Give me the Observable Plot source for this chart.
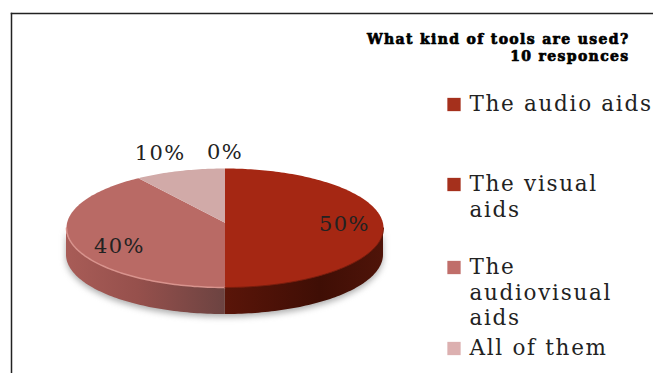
<!DOCTYPE html>
<html>
<head>
<meta charset="utf-8">
<script src="https://cdn.jsdelivr.net/npm/d3@7"></script>
<script src="https://cdn.jsdelivr.net/npm/@observablehq/plot@0.6"></script>
<style>
  html, body { margin: 0; padding: 0; background: #fff; overflow: hidden; }
  svg { display: block; }
</style>
</head>
<body>
<div id="chart"></div>
<script>
// Survey answers, in the order they run clockwise from twelve o'clock.
const categories = ["The audio aids", "The visual aids", "The audiovisual aids", "All of them"];
const shares = [0, 50, 40, 10];
const titleLines = ["What kind of tools are used?", "10 responces"];
const legendLabels = ["The audio aids", "The visual\naids", "The\naudiovisual\naids", "All of them"];

// Palette and layout
const topColors = ["#a52713", "#a52713", "#b96a65", "#d1aaa8"];
const swatchColors = ["#a5301c", "#a5301c", "#c06e6a", "#dcb0b0"];
const labelRadius = [1.33, 0.756, 0.69, 1.5];
const labelDrop = [0, 0.034, 0.186, 0.085];   // nudge below the radial spot, in y units
const legendRows = [104, 184, 267, 348];
const tilt = 0.09;          // perspective strength of the tilted disc
const depth = 0.458;        // thickness of the disc, in units of the y scale
const frameLeft = 11, frameTop = 13;
const font = "'DejaVu Serif', serif";

// Perspective view of a point on the unit disc: the near edge looks larger.
const project = (x, y) => ({x: x / (1 + tilt * y), y: y / (1 + tilt * y)});

// Angles run clockwise from the top; x = sin, y = cos on the unit disc.
const total = d3.sum(shares);
const slices = [];
let start = 0;
categories.forEach((name, i) => {
  const sweep = (shares[i] / total) * 2 * Math.PI;
  slices.push({name, share: shares[i], start, end: start + sweep, color: topColors[i], index: i});
  start += sweep;
});
const arcPoints = (a0, a1) => {
  const n = Math.max(2, Math.ceil(Math.abs(a1 - a0) / 0.02));
  return d3.range(n + 1).map(k => a0 + ((a1 - a0) * k) / n);
};
const wedges = slices.filter(s => s.share > 0).flatMap(s =>
  [project(0, 0), ...arcPoints(s.start, s.end).map(a => project(Math.sin(a), Math.cos(a)))]
    .map(p => ({...p, name: s.name, color: s.color}))
);

// The visible wall is the rim below its widest point, split where the slices meet.
const wall = (a0, a1) => arcPoints(a0, a1).map(a => project(Math.sin(a), Math.cos(a)));
const widest = Math.acos(-tilt);
const wallRight = wall(widest, Math.PI);
const wallLeft = wall(Math.PI, 2 * Math.PI - widest);

const labels = slices.map(s => {
  const mid = s.share === 0 ? 0 : (s.start + s.end) / 2;
  const r = labelRadius[s.index];
  const p = project(r * Math.sin(mid), r * Math.cos(mid));
  return {x: p.x, y: p.y - labelDrop[s.index], text: `${s.share}%`};
});

const gradients = () => {
  const defs = d3.create("svg:defs");
  const add = (id, stops) => {
    const g = defs.append("linearGradient").attr("id", id);
    stops.forEach(([offset, color]) => g.append("stop").attr("offset", offset).attr("stop-color", color));
  };
  add("wall-right", [["0%", "#5a1509"], ["60%", "#3f0e05"], ["100%", "#4f1409"]]);
  add("wall-left", [["0%", "#a85c57"], ["45%", "#96504c"], ["100%", "#6c4341"]]);
  return defs.node();
};

const inFrame = (x, y) => ({frameAnchor: "top-left", dx: x - frameLeft, dy: y - frameTop});

// Wide-set lettering: letter-spacing on the group the text mark renders.
const spaced = px => (index, scales, values, dimensions, context, next) => {
  const g = next(index, scales, values, dimensions, context);
  g.setAttribute("letter-spacing", px);
  return g;
};

const halfWidth = 1 / Math.sqrt(1 - tilt * tilt);

const chart = Plot.plot({
  width: 653,
  height: 373,
  marginLeft: frameLeft,
  marginTop: frameTop,
  marginRight: 0,
  marginBottom: 0,
  x: {axis: null, domain: [-halfWidth, halfWidth], range: [66, 383]},
  y: {axis: null, domain: [1 / (1 + tilt), -1 / (1 - tilt)], range: [168, 287]},
  style: {background: "#fff", fontFamily: font},
  marks: [
    gradients,
    Plot.frame({anchor: "left", stroke: "#222", strokeWidth: 1.5}),
    Plot.frame({anchor: "top", stroke: "#222", strokeWidth: 1.5}),
    // soft shadow under the disc
    Plot.areaY([...wallLeft, ...wallRight], {
      x: "x", y1: "y", y2: d => d.y - depth - 0.05, fill: "#777", fillOpacity: 0.6,
      sort: "x", imageFilter: "blur(3px)"
    }),
    // disc wall
    Plot.areaY(wallRight, {x: "x", y1: "y", y2: d => d.y - depth, sort: "x", fill: "url(#wall-right)"}),
    Plot.areaY(wallLeft, {x: "x", y1: "y", y2: d => d.y - depth, sort: "x", fill: "url(#wall-left)"}),
    // disc top
    Plot.line(wedges, {x: "x", y: "y", z: "name", fill: "color", stroke: null, curve: "linear"}),
    // lit edge along the front of the rim
    Plot.line(wallLeft, {x: "x", y: "y", stroke: "#d8938d", strokeWidth: 1.5}),
    Plot.line(wallRight, {x: "x", y: "y", stroke: "#7a1d0d", strokeWidth: 1}),
    // percentage labels
    Plot.text(labels, {
      x: "x", y: "y", text: "text", render: spaced(1.4),
      fontSize: 21, fill: "#222", fontFamily: font
    }),
    // heading
    Plot.text([titleLines.join("\n")], {
      ...inFrame(629, 32), text: d => d, textAnchor: "end", lineAnchor: "top", lineHeight: 1.2,
      fontSize: 14, fontWeight: 900, fill: "#000", stroke: "#000", strokeWidth: 0.7, fontFamily: font,
      render: spaced(1.35)
    }),
    // legend
    ...legendLabels.map((label, i) => Plot.dot([label], {
      ...inFrame(453.5, legendRows[i]), symbol: "square", r: 7.5, fill: swatchColors[i], stroke: null
    })),
    ...legendLabels.map((label, i) => Plot.text([label], {
      ...inFrame(469, legendRows[i] - 11), text: d => d, textAnchor: "start", lineAnchor: "top",
      lineHeight: 1.17, fontSize: 21.5, fill: "#222", fontFamily: font, render: spaced(1.7)
    }))
  ]
});
document.getElementById("chart").append(chart);
</script>
</body>
</html>
